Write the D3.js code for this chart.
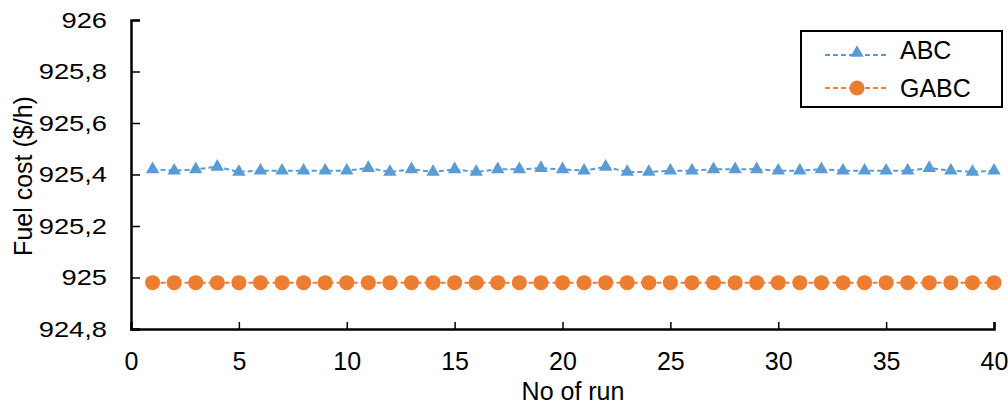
<!DOCTYPE html>
<html><head><meta charset="utf-8">
<script src="https://cdn.jsdelivr.net/npm/d3@7"></script>
<style>body{margin:0;background:#fff}svg{display:block}text{font-family:"Liberation Sans",Arial,sans-serif;fill:#000}</style>
</head><body><svg id="c" width="1008" height="405"></svg>
<script>
const runs = d3.range(1, 41);
const abc = [925.42,925.415,925.42,925.43,925.41,925.415,925.415,925.415,925.415,925.415,
             925.425,925.41,925.42,925.41,925.42,925.41,925.42,925.42,925.425,925.42,
             925.415,925.43,925.41,925.41,925.415,925.415,925.42,925.42,925.42,925.415,
             925.415,925.42,925.415,925.415,925.415,925.415,925.425,925.415,925.41,925.415];
const gabc = runs.map(() => 924.98);
const xTicks = [0,5,10,15,20,25,30,35,40];
const yTicks = [924.8,925,925.2,925.4,925.6,925.8,926];
const seriesNames = ["ABC","GABC"];
const colors = ["#5b9bd5","#ed7d31"];

const svg = d3.select("#c");
const x = d3.scaleLinear().domain([0,40]).range([131,994]);
const y = d3.scaleLinear().domain([924.8,926]).range([329,20]);
const fmt = v => (Math.round(v*10)/10).toString().replace(".", ",");

// axes
const xa = svg.append("g").attr("transform","translate(0,329)")
  .call(d3.axisBottom(x).tickValues(xTicks).tickSize(-7).tickPadding(23).tickFormat(d=>d));
xa.select(".domain").attr("stroke","#000").attr("stroke-width",2.5);
xa.selectAll(".tick line").attr("stroke","#000").attr("stroke-width",1.5);
xa.selectAll(".tick text").attr("font-size",25).attr("dy","0.71em");
xa.selectAll(".tick").filter(d=>d===0).select("line").remove();

const ya = svg.append("g").attr("transform","translate(131,0)")
  .call(d3.axisLeft(y).tickValues(yTicks).tickSize(-9).tickPadding(24).tickFormat(fmt));
ya.select(".domain").attr("stroke","#000").attr("stroke-width",2.5);
ya.selectAll(".tick line").attr("stroke","#000").attr("stroke-width",1.5);
ya.selectAll(".tick text").attr("font-size",22).each(function(){
  const w = this.getComputedTextLength();
  d3.select(this).attr("textLength", w*1.24).attr("lengthAdjust","spacingAndGlyphs");
});
ya.selectAll(".tick").filter(d=>d===924.8).select("line").remove();

// axis titles
svg.append("text").attr("x",573).attr("y",400).attr("text-anchor","middle").attr("font-size",25).text("No of run");
svg.append("text").attr("transform","translate(32,176) rotate(-90)").attr("text-anchor","middle").attr("font-size",25).text("Fuel cost ($/h)");

const line = d3.line().x((d,i)=>x(runs[i])).y(d=>y(d));
const tri = d3.symbol().type(d3.symbolTriangle).size(78);

// ABC
svg.append("path").datum(abc).attr("d",line).attr("fill","none").attr("stroke",colors[0]).attr("stroke-width",2).attr("stroke-dasharray","5,3");
svg.append("g").selectAll("path").data(abc).join("path")
  .attr("d",tri).attr("transform",(d,i)=>`translate(${x(runs[i])},${y(d)})`).attr("fill",colors[0]);

// GABC
svg.append("path").datum(gabc).attr("d",line).attr("fill","none").attr("stroke",colors[1]).attr("stroke-width",2).attr("stroke-dasharray","5,3");
svg.append("g").selectAll("circle").data(gabc).join("circle")
  .attr("cx",(d,i)=>x(runs[i])).attr("cy",d=>y(d)).attr("r",7.5).attr("fill",colors[1]);

// legend
const lg = svg.append("g");
lg.append("rect").attr("x",801).attr("y",31).attr("width",201).attr("height",76).attr("fill","#fff").attr("stroke","#000").attr("stroke-width",2);
[0,1].forEach(k=>{
  const yy = k===0 ? 55 : 88;
  const ty = k===0 ? 50 : 88;
  lg.append("line").attr("x1",825).attr("x2",889).attr("y1",yy).attr("y2",yy).attr("stroke",colors[k]).attr("stroke-width",2).attr("stroke-dasharray","5,3");
  if(k===0) lg.append("path").attr("d",tri).attr("transform",`translate(857,${yy-2})`).attr("fill",colors[0]);
  else lg.append("circle").attr("cx",857).attr("cy",yy).attr("r",7.5).attr("fill",colors[1]);
  lg.append("text").attr("x",900).attr("y",ty).attr("dy","0.36em").attr("font-size",25).text(seriesNames[k]);
});
</script></body></html>
